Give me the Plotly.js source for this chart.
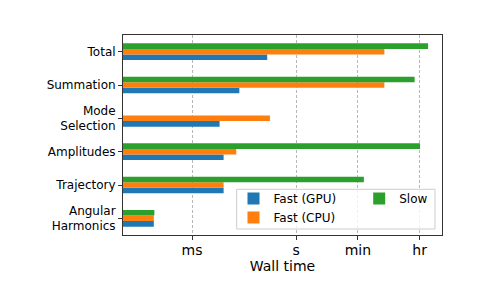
<!DOCTYPE html>
<html>
<head>
<meta charset="utf-8">
<script src="https://cdn.plot.ly/plotly-3.0.1.min.js"></script>
<style>html,body{margin:0;padding:0;background:#fff;}#chart{width:491px;height:294px;}</style>
</head>
<body>
<div id="chart"></div>
<script>
// Categories, top to bottom as shown
const categories = ["Total", "Summation", "Mode<br>Selection", "Amplitudes", "Trajectory", "Angular<br>Harmonics"];
// Wall time in seconds
const fastGPU = [0.146, 0.023, 0.0062, 0.0081, 0.0081, 0.000079];
const fastCPU = [347, 347, 0.175, 0.0188, 0.0081, 0.000079];
const slow    = [6300, 2580, null, 3700, 89, 0.000082];
const seriesNames = ["Fast (GPU)", "Fast (CPU)", "Slow"];
const tickValues = [0.001, 1, 60, 3600];
const tickLabels = ["ms", "s", "min", "hr"];
const xTitle = "Wall time";

const colors = ["#1f77b4", "#ff7f0e", "#2ca02c"];
const legendIds = ["legend", "legend", "legend2"];
const series = [fastGPU, fastCPU, slow];

const traces = series.map((vals, i) => ({
  type: "bar",
  orientation: "h",
  name: seriesNames[i],
  x: vals,
  y: categories,
  marker: {color: colors[i], line: {width: 0}},
  legend: legendIds[i],
  hoverinfo: "skip"
}));

const legendStyle = {
  orientation: "v",
  xanchor: "left", yanchor: "top", y: 0.255,
  bgcolor: "rgba(0,0,0,0)",
  borderwidth: 0,
  font: {family: "DejaVu Sans", size: 12, color: "#000"}
};

const layout = {
  width: 491,
  height: 294,
  margin: {l: 123, r: 49, t: 35, b: 59},
  paper_bgcolor: "#fff",
  plot_bgcolor: "#fff",
  font: {family: "DejaVu Sans", size: 12, color: "#000"},
  barmode: "group",
  bargap: 0.5,
  bargroupgap: 0,
  showlegend: true,
  legend: Object.assign({}, legendStyle, {x: 0.3464}),
  legend2: Object.assign({}, legendStyle, {x: 0.7404}),
  shapes: [{
    type: "rect", xref: "paper", yref: "paper",
    x0: 0.3564, x1: 0.978, y0: 0.03, y1: 0.2285,
    fillcolor: "rgba(255,255,255,0.8)",
    line: {color: "#cccccc", width: 1},
    layer: "above"
  }],
  xaxis: {
    type: "log",
    range: [-4.99, 4.2],
    tickvals: tickValues,
    ticktext: tickLabels,
    tickfont: {size: 14},
    ticks: "outside", ticklen: 4, tickcolor: "#333", tickwidth: 1,
    ticklabelstandoff: -2,
    showline: true, linecolor: "#333", linewidth: 1, mirror: true,
    showgrid: true, gridcolor: "#b8b8b8", griddash: "3px,2px", gridwidth: 1,
    zeroline: false,
    automargin: false,
    title: {text: xTitle, font: {size: 14}, standoff: 0}
  },
  yaxis: {
    type: "category",
    categoryorder: "array",
    categoryarray: categories.slice().reverse(),
    range: [-0.5, 5.5],
    ticks: "outside", ticklen: 4, tickcolor: "#333", tickwidth: 1,
    showline: true, linecolor: "#333", linewidth: 1, mirror: true,
    showgrid: false, zeroline: false,
    automargin: false
  }
};

Plotly.newPlot("chart", traces, layout, {displayModeBar: false, staticPlot: true});
</script>
</body>
</html>
